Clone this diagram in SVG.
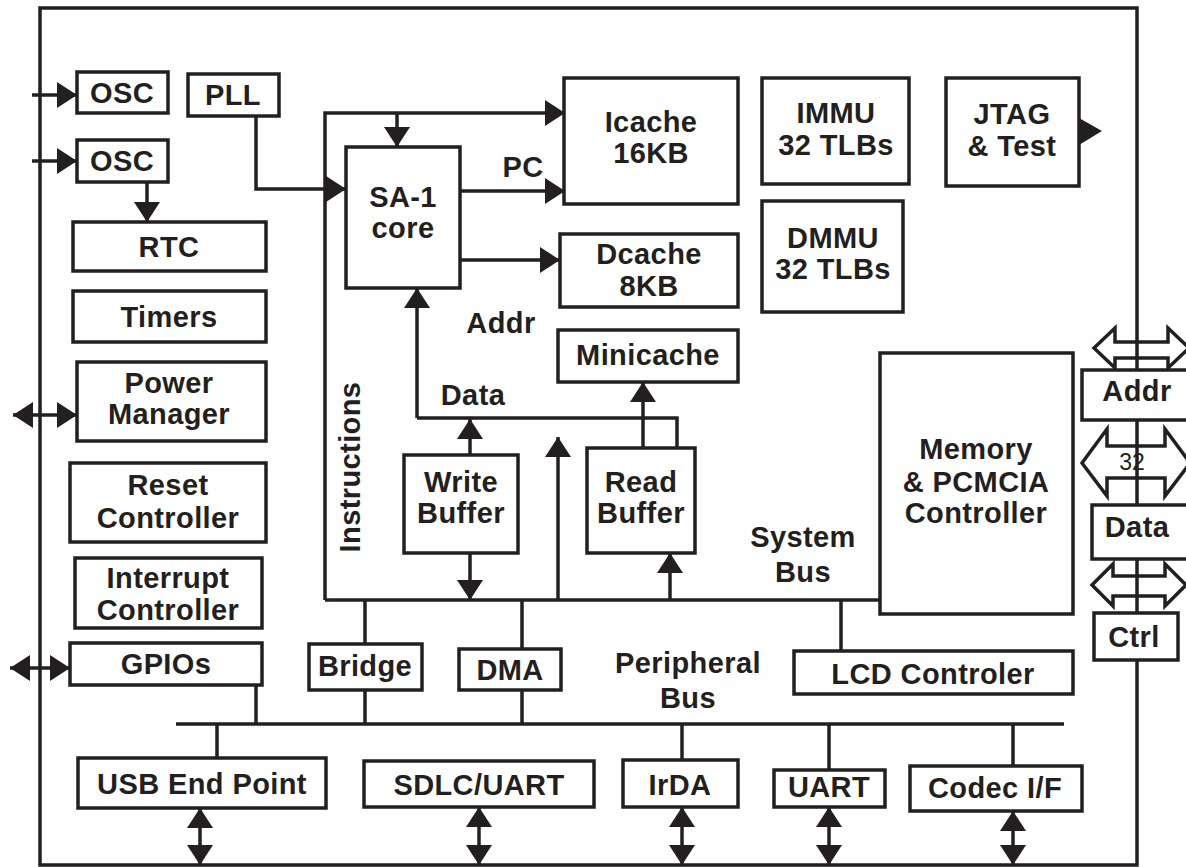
<svg xmlns="http://www.w3.org/2000/svg" width="1186" height="867" viewBox="0 0 1186 867">
<style>
.t{font-family:"Liberation Sans",Arial,Helvetica,sans-serif;font-size:29px;font-weight:bold;fill:#231f20;text-anchor:middle;letter-spacing:0.4px}
.s{font-family:"Liberation Sans",Arial,Helvetica,sans-serif;font-size:23px;fill:#231f20;text-anchor:middle}
.b{fill:#fff;stroke:#231f20;stroke-width:3.5}
.c{fill:none;stroke:#231f20;stroke-width:3.5}
.a{marker-end:url(#ah)}
.d{marker-start:url(#ah);marker-end:url(#ah)}
.h{fill:none;stroke:#231f20;stroke-width:3.5;stroke-linejoin:miter}
</style>
<defs>
<marker id="ah" viewBox="0 0 20 26" refX="20" refY="13" markerWidth="20" markerHeight="26" markerUnits="userSpaceOnUse" orient="auto-start-reverse"><path d="M0,0 L20,13 L0,26 z" fill="#231f20"/></marker>
</defs>
<rect width="1186" height="867" fill="#fff"/>
<rect id="frame" x="40" y="8" width="1097" height="857" class="c"/>

<g id="connectors">
<path class="c a" d="M32,95 L77,95"/>
<path class="c a" d="M32,161 L77,161"/>
<path class="c a" d="M147,182 L147,222"/>
<path class="c d" d="M13,415 L77,415"/>
<path class="c d" d="M10,668 L70,668"/>
<path class="c a" d="M256,116 L256,189 L346,189"/>
<path class="c a" d="M325,600 L325,113 L565,113"/>
<path class="c a" d="M397,113 L397,147"/>
<path class="c a" d="M460,191 L565,191"/>
<path class="c a" d="M460,260 L560,260"/>
<path class="c a" d="M417,418 L417,288"/>
<path class="c" d="M417,418 L677,418 L677,448"/>
<path class="c a" d="M643,448 L643,382"/>
<path class="c a" d="M470,455 L470,419"/>
<path class="c a" d="M470,553 L470,600"/>
<path class="c a" d="M558,600 L558,437"/>
<path class="c a" d="M670,600 L670,553"/>
<path class="c" d="M325,600 L880,600"/>
<path class="c" d="M365,600 L365,644 M365,690 L365,724"/>
<path class="c" d="M522,600 L522,649 M522,690 L522,724"/>
<path class="c" d="M841,600 L841,651"/>
<path class="c" d="M176,724 L1064,724"/>
<path class="c" d="M256,685 L256,724"/>
<path class="c" d="M217,724 L217,758"/>
<path class="c" d="M682,724 L682,760"/>
<path class="c" d="M829,724 L829,770"/>
<path class="c" d="M1013,724 L1013,766"/>
<path class="c d" d="M200,808 L200,865"/>
<path class="c d" d="M479,807 L479,865"/>
<path class="c d" d="M682,807 L682,865"/>
<path class="c d" d="M829,807 L829,865"/>
<path class="c d" d="M1013,811 L1013,865"/>
<polygon points="1079,118 1102,131 1079,145" fill="#231f20"/>
<polygon class="h" points="1094,348 1115,328 1115,342 1168,342 1168,328 1189,348 1168,368 1168,358 1115,358 1115,368"/>
<polygon class="h" points="1082,463 1107,429 1107,446 1165,446 1165,429 1190,463 1165,496 1165,478 1107,478 1107,496"/>
<polygon class="h" points="1092,585 1113,564 1113,576 1165,576 1165,564 1186,585 1165,606 1165,596 1113,596 1113,606"/>
<text class="s" x="1132" y="470">32</text>
<text class="t" x="523" y="177">PC</text>
<text class="t" x="501" y="333">Addr</text>
<text class="t" x="473" y="405">Data</text>
<text class="t" transform="translate(360,467) rotate(-90)">Instructions</text>
<text class="t" x="803" y="547">System</text>
<text class="t" x="803" y="582">Bus</text>
<text class="t" x="688" y="673">Peripheral</text>
<text class="t" x="688" y="708">Bus</text>
</g>

<g id="osc1"><rect class="b" x="77" y="72" width="91" height="41"/><text class="t" x="122" y="103">OSC</text></g>
<g id="osc2"><rect class="b" x="77" y="140" width="91" height="42"/><text class="t" x="122" y="171">OSC</text></g>
<g id="pll"><rect class="b" x="188" y="74" width="91" height="42"/><text class="t" x="233" y="105">PLL</text></g>
<g id="rtc"><rect class="b" x="73" y="222" width="193" height="49"/><text class="t" x="169" y="257">RTC</text></g>
<g id="timers"><rect class="b" x="73" y="291" width="193" height="51"/><text class="t" x="169" y="327">Timers</text></g>
<g id="power"><rect class="b" x="77" y="362" width="189" height="79"/><text class="t" x="169" y="393">Power</text><text class="t" x="169" y="424">Manager</text></g>
<g id="reset"><rect class="b" x="70" y="463" width="196" height="79"/><text class="t" x="168" y="495">Reset</text><text class="t" x="168" y="528">Controller</text></g>
<g id="interrupt"><rect class="b" x="75" y="558" width="187" height="70"/><text class="t" x="168" y="588">Interrupt</text><text class="t" x="168" y="620">Controller</text></g>
<g id="gpios"><rect class="b" x="70" y="643" width="192" height="42"/><text class="t" x="166" y="674">GPIOs</text></g>
<g id="core"><rect class="b" x="346" y="147" width="114" height="141"/><text class="t" x="403" y="207">SA-1</text><text class="t" x="403" y="238">core</text></g>
<g id="icache"><rect class="b" x="564" y="78" width="174" height="126"/><text class="t" x="651" y="132">Icache</text><text class="t" x="651" y="163">16KB</text></g>
<g id="dcache"><rect class="b" x="560" y="234" width="178" height="73"/><text class="t" x="649" y="264">Dcache</text><text class="t" x="649" y="296">8KB</text></g>
<g id="immu"><rect class="b" x="762" y="78" width="147" height="106"/><text class="t" x="836" y="123">IMMU</text><text class="t" x="836" y="155">32 TLBs</text></g>
<g id="dmmu"><rect class="b" x="762" y="201" width="141" height="111"/><text class="t" x="833" y="248">DMMU</text><text class="t" x="833" y="279">32 TLBs</text></g>
<g id="jtag"><rect class="b" x="946" y="78" width="133" height="108"/><text class="t" x="1012" y="124">JTAG</text><text class="t" x="1012" y="156">&amp; Test</text></g>
<g id="minicache"><rect class="b" x="558" y="330" width="180" height="52"/><text class="t" x="648" y="365">Minicache</text></g>
<g id="writebuf"><rect class="b" x="404" y="455" width="114" height="98"/><text class="t" x="461" y="492">Write</text><text class="t" x="461" y="523">Buffer</text></g>
<g id="readbuf"><rect class="b" x="587" y="448" width="108" height="105"/><text class="t" x="641" y="492">Read</text><text class="t" x="641" y="523">Buffer</text></g>
<g id="memctrl"><rect class="b" x="880" y="353" width="193" height="261"/><text class="t" x="976" y="459">Memory</text><text class="t" x="976" y="492">&amp; PCMCIA</text><text class="t" x="976" y="523">Controller</text></g>
<g id="addr"><rect class="b" x="1082" y="370" width="110" height="50"/><text class="t" x="1137" y="401">Addr</text></g>
<g id="data"><rect class="b" x="1092" y="505" width="100" height="54"/><text class="t" x="1137" y="537">Data</text></g>
<g id="ctrl"><rect class="b" x="1094" y="613" width="84" height="47"/><text class="t" x="1134" y="647">Ctrl</text></g>
<g id="bridge"><rect class="b" x="309" y="644" width="113" height="46"/><text class="t" x="365" y="676">Bridge</text></g>
<g id="dma"><rect class="b" x="459" y="649" width="102" height="41"/><text class="t" x="510" y="680">DMA</text></g>
<g id="lcd"><rect class="b" x="794" y="651" width="279" height="43"/><text class="t" x="933" y="684">LCD Controler</text></g>
<g id="usb"><rect class="b" x="78" y="758" width="248" height="50"/><text class="t" x="202" y="794">USB End Point</text></g>
<g id="sdlc"><rect class="b" x="364" y="761" width="230" height="46"/><text class="t" x="479" y="795">SDLC/UART</text></g>
<g id="irda"><rect class="b" x="623" y="760" width="115" height="47"/><text class="t" x="680" y="795">IrDA</text></g>
<g id="uart"><rect class="b" x="774" y="770" width="111" height="37"/><text class="t" x="829" y="797">UART</text></g>
<g id="codec"><rect class="b" x="910" y="766" width="172" height="45"/><text class="t" x="995" y="798">Codec I/F</text></g>
</svg>
